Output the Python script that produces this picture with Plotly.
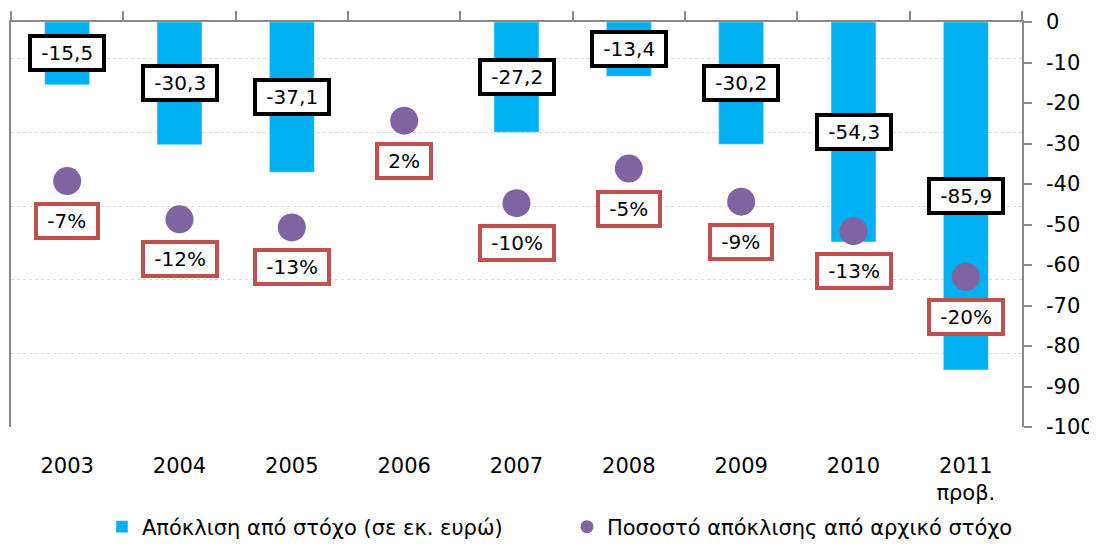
import plotly.graph_objects as go

categories = ['2003', '2004', '2005', '2006', '2007', '2008', '2009', '2010', '2011<br>προβ.']
deviation = [-15.5, -30.3, -37.1, None, -27.2, -13.4, -30.2, -54.3, -85.9]
pct_deviation = [-0.066, -0.118, -0.129, 0.016, -0.096, -0.049, -0.094, -0.134, -0.196]
y_ticks = [0, -10, -20, -30, -40, -50, -60, -70, -80, -90, -100]

name_bar = 'Απόκλιση από στόχο (σε εκ. ευρώ)'
name_dot = 'Ποσοστό απόκλισης από αρχικό στόχο'

FONT = 'DejaVu Sans'
BAR_C = '#00B0F0'
DOT_C = '#8064A2'
AX_C = '#898989'
FS = 21

fig = go.Figure()
fig.add_trace(go.Bar(x=categories, y=deviation, name=name_bar, marker_color=BAR_C,
                     xaxis='x', yaxis='y', showlegend=True))
fig.add_trace(go.Scatter(x=categories, y=pct_deviation, mode='markers',
                         marker=dict(size=28, color=DOT_C), xaxis='x2', yaxis='y2',
                         showlegend=False))
fig.add_trace(go.Scatter(x=[categories[0]], y=[None], mode='markers', name=name_dot,
                         marker=dict(size=13, color=DOT_C), xaxis='x2', yaxis='y2'))

ann = []
for i, v in enumerate(deviation):
    if v is None:
        continue
    ann.append(dict(x=i, y=v / 2, xref='x', yref='y', showarrow=False,
                    text='\u00a0' + f'{v:.1f}'.replace('.', ',') + '\u00a0',
                    font=dict(family=FONT, size=FS - 1, color='black'),
                    bgcolor='white', bordercolor='black', borderwidth=4, borderpad=3))
for i, p in enumerate(pct_deviation):
    ann.append(dict(x=i, y=p, xref='x2', yref='y2', showarrow=False, yshift=-40,
                    text='\u00a0' + f'{p*100:.0f}%' + '\u00a0',
                    font=dict(family=FONT, size=FS - 1, color='black'),
                    bgcolor='white', bordercolor='#C0504D', borderwidth=4, borderpad=3))

fig.update_layout(
    width=1089, height=537,
    margin=dict(l=3, r=75, t=14, b=118),
    paper_bgcolor='white', plot_bgcolor='white',
    font=dict(family=FONT, size=FS, color='black'),
    bargap=0.6,
    xaxis=dict(type='category', range=[-0.5, 8.5], showline=False, ticks='',
               showgrid=False, tickfont=dict(size=FS), ticklabelstandoff=24,
               automargin=False),
    xaxis2=dict(type='category', range=[-0.5, 8.5], overlaying='x', side='top',
                showline=True, linecolor=AX_C, linewidth=1.5, ticks='outside',
                tickson='boundaries', ticklen=9, tickcolor=AX_C, tickwidth=1.5,
                showticklabels=False, showgrid=False, automargin=False),
    yaxis=dict(side='right', range=[-100, 0], tickvals=y_ticks,
               ticktext=[str(t) for t in y_ticks], showline=True,
               linecolor=AX_C, linewidth=1.5, ticks='outside', ticklen=8,
               tickcolor=AX_C, tickwidth=1.5, showgrid=False, zeroline=False,
               tickfont=dict(size=FS), ticklabelstandoff=10, automargin=False),
    yaxis2=dict(overlaying='y', side='left', range=[-0.40, 0.15], dtick=0.1,
                showticklabels=False, showline=True, linecolor=AX_C, linewidth=1.5,
                ticks='', showgrid=True, gridcolor='#D9D9D9', griddash='dot',
                gridwidth=1, zeroline=False, automargin=False),
    legend=dict(orientation='h', xref='container', yref='container',
                x=0.0863, xanchor='left', y=0.0335, yanchor='middle',
                font=dict(size=21), itemwidth=30, entrywidth=420),
    annotations=ann,
)

fig.write_html('out.html')
